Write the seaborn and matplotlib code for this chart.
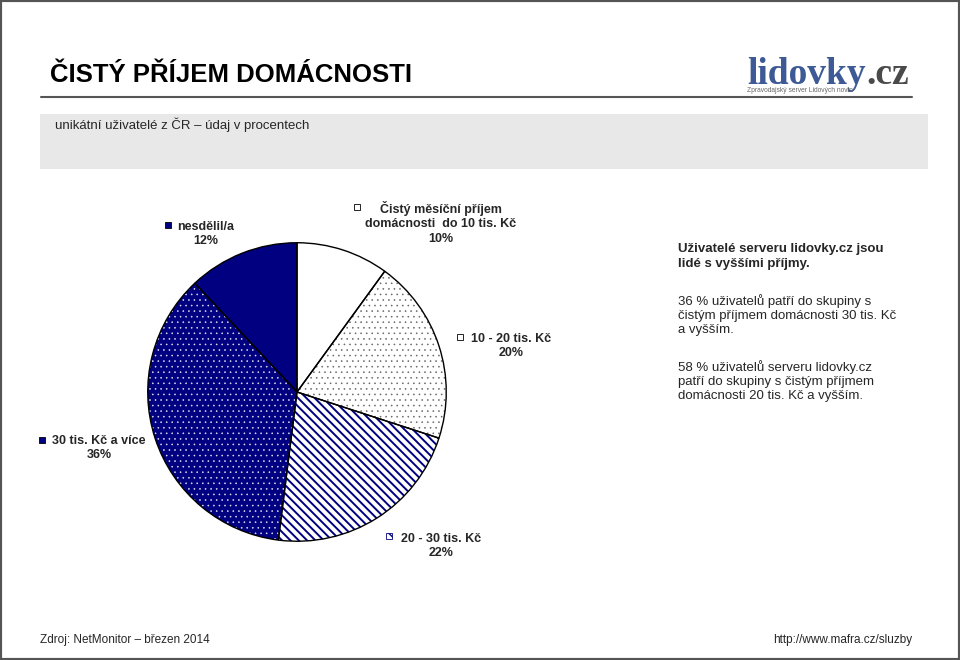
import matplotlib
matplotlib.use("Agg")
import matplotlib.pyplot as plt
from matplotlib.patches import Rectangle
from matplotlib.lines import Line2D
import seaborn as sns

# data
labels = ["Čistý měsíční příjem\ndomácnosti  do 10 tis. Kč", "10 - 20 tis. Kč",
          "20 - 30 tis. Kč", "30 tis. Kč a více", "nesdělil/a"]
shares = [10, 20, 22, 36, 12]

NAVY = "#000080"
faces = ["white", "white", "white", NAVY, NAVY]
hatches = [None, "...", "\\\\\\\\", "...", None]
hatch_colors = ["white", "#666666", NAVY, "#e0e0f0", NAVY]
hatch_widths = [1.0, 0.4, 1.4, 0.4, 1.0]

sns.set_theme(style="white")
plt.rcParams["font.family"] = ["Liberation Sans", "DejaVu Sans"]
plt.rcParams["hatch.linewidth"] = 1.0

W, H = 960, 660
fig = plt.figure(figsize=(W / 100, H / 100), dpi=100)
fig.patch.set_facecolor("white")


def fx(x):
    return x / W


def fy(y):
    return 1 - y / H


# header
fig.text(fx(50), fy(75), "ČISTÝ PŘÍJEM DOMÁCNOSTI", fontsize=18.5, fontweight="heavy",
         fontstretch="condensed", color="black", va="center", ha="left")
fig.add_artist(Line2D([fx(41), fx(912)], [fy(97), fy(97)], color="#555555", lw=1.5,
                      transform=fig.transFigure))
fig.text(fx(866), fy(84), "lidovky", fontsize=27, fontweight="bold", color="#3d5a96",
         family=["Liberation Serif", "DejaVu Serif"], ha="right", va="baseline")
fig.text(fx(866), fy(84), ".cz", fontsize=27, fontweight="bold", color="#4a4a4a",
         family=["Liberation Serif", "DejaVu Serif"], ha="left", va="baseline")
fig.text(fx(747), fy(90), "Zpravodajský server Lidových novin", fontsize=4.8, color="#666666",
         ha="left", va="center")

fig.add_artist(Rectangle((fx(40), fy(169)), fx(928) - fx(40), fy(114) - fy(169),
                         facecolor="#e8e8e8", edgecolor="none", transform=fig.transFigure))
fig.text(fx(55), fy(125), "unikátní uživatelé z ČR – údaj v procentech", fontsize=9.5,
         ha="left", va="center")

# pie
ax = fig.add_axes([fx(147), fy(542), 300 / W, 300 / H])
kw = dict(startangle=90, counterclock=False, radius=1)
base, _ = ax.pie(shares, colors=faces, wedgeprops=dict(linewidth=0), **kw)
for i, h in enumerate(hatches):
    if not h:
        continue
    with plt.rc_context({"hatch.linewidth": hatch_widths[i]}):
        over, _ = ax.pie(shares, colors=["none"] * len(shares), wedgeprops=dict(linewidth=0), **kw)
    for j, w in enumerate(over):
        if j != i:
            w.remove()
            continue
        w.set_hatch(h)
        w.set_edgecolor(hatch_colors[i])
        w.set_linewidth(0)
        if hasattr(w, "set_hatch_linewidth"):
            w.set_hatch_linewidth(hatch_widths[i])
edges, _ = ax.pie(shares, colors=["none"] * len(shares),
                  wedgeprops=dict(linewidth=1.0, edgecolor="black"), **kw)
ax.set_xlim(-1.005, 1.005)
ax.set_ylim(-1.005, 1.005)
ax.set_aspect("equal")
ax.axis("off")

# slice labels (marker square + centred text)
label_pos = [
    # (marker x, marker y, text centre x, text top y)
    (357, 207, 441, 201),
    (460, 337, 511, 333),
    (389, 536, 441, 533),
    (42, 440, 99, 435),
    (168, 225, 206, 221),
]
marker_hatch = [None, None, "\\\\\\", None, None]
for (mx, my, tx, ty), lab, s, fc, mh in zip(label_pos, labels, shares, faces, marker_hatch):
    fig.add_artist(Rectangle((fx(mx - 3), fy(my + 3)), 6 / W, 6 / H, facecolor=fc,
                             edgecolor="black" if mh is None else NAVY, hatch=mh, lw=0.6,
                             transform=fig.transFigure))
    fig.text(fx(tx), fy(ty), f"{lab}\n{s}%", fontsize=9, fontweight="bold",
             ha="center", va="top", multialignment="center", linespacing=1.25)

# commentary
fig.text(fx(678), fy(243), "Uživatelé serveru lidovky.cz jsou\nlidé s vyššími příjmy.",
         fontsize=9.5, fontweight="bold", ha="left", va="top", linespacing=1.3)
fig.text(fx(678), fy(294), "36 % uživatelů patří do skupiny s\nčistým příjmem domácnosti 30 tis. Kč\na vyšším.",
         fontsize=9.5, ha="left", va="top", linespacing=1.25)
fig.text(fx(678), fy(360), "58 % uživatelů serveru lidovky.cz\npatří do skupiny s čistým příjmem\ndomácnosti 20 tis. Kč a vyšším.",
         fontsize=9.5, ha="left", va="top", linespacing=1.25)

# footer
fig.text(fx(40), fy(640), "Zdroj: NetMonitor – březen 2014", fontsize=8.5,
         ha="left", va="center")
fig.text(fx(912), fy(640), "http://www.mafra.cz/sluzby", fontsize=8.5,
         ha="right", va="center")

fig.add_artist(Rectangle((0, 0), 1, 1, facecolor="none", edgecolor="#555555", lw=3,
                         transform=fig.transFigure))

fig.savefig("out.png", dpi=100)
